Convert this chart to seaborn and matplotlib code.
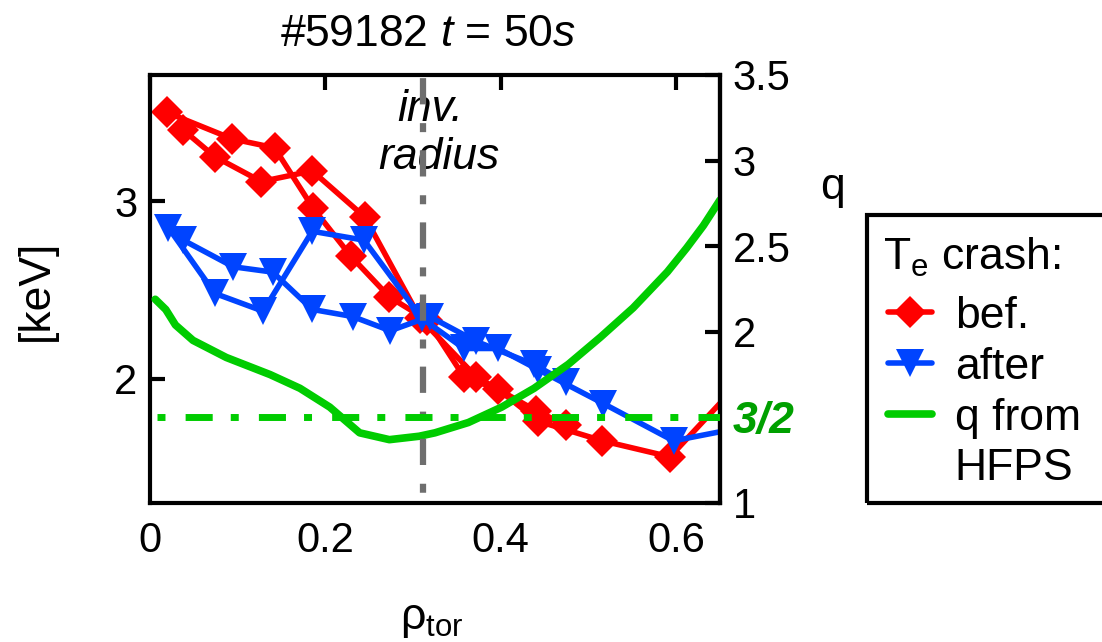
import pandas as pd
import seaborn as sns
import matplotlib.pyplot as plt
from matplotlib.lines import Line2D
from matplotlib.patches import Rectangle

# Te profiles before / after the crash (two sweeps each), rho_tor vs keV
rho_bef_1 = [0.019, 0.094, 0.142, 0.186, 0.229, 0.273, 0.316, 0.358, 0.397, 0.443, 0.516, 0.593, 0.68]
te_bef_1 = [3.50, 3.35, 3.30, 2.96, 2.69, 2.46, 2.33, 2.01, 1.94, 1.76, 1.65, 1.56, 2.02]
rho_bef_2 = [0.038, 0.074, 0.127, 0.185, 0.245, 0.308, 0.372, 0.440, 0.474]
te_bef_2 = [3.40, 3.25, 3.11, 3.17, 2.91, 2.34, 2.01, 1.82, 1.74]

rho_aft_1 = [0.021, 0.074, 0.129, 0.185, 0.244, 0.310, 0.358, 0.397, 0.443, 0.517, 0.597, 0.68]
te_aft_1 = [2.85, 2.48, 2.38, 2.83, 2.78, 2.34, 2.17, 2.17, 2.05, 1.86, 1.65, 1.73]
rho_aft_2 = [0.038, 0.095, 0.140, 0.185, 0.231, 0.274, 0.319, 0.372, 0.438, 0.474]
te_aft_2 = [2.78, 2.63, 2.60, 2.39, 2.35, 2.27, 2.35, 2.21, 2.08, 1.98]

# q profile from HFPS (right axis)
rho_q = [0.006, 0.018, 0.029, 0.049, 0.087, 0.137, 0.171, 0.205, 0.239, 0.273, 0.307,
         0.325, 0.363, 0.401, 0.438, 0.477, 0.514, 0.551, 0.590, 0.612, 0.631, 0.65]
q_hfps = [2.19, 2.13, 2.04, 1.95, 1.85, 1.75, 1.67, 1.56, 1.41, 1.37, 1.39,
          1.41, 1.47, 1.56, 1.67, 1.81, 1.97, 2.14, 2.35, 2.49, 2.62, 2.77]

rho_inv = 0.311
q_res = 1.5

x_ticks = [0, 0.2, 0.4, 0.6]
x_ticklabels = ["0", "0.2", "0.4", "0.6"]
te_ticks = [2, 3]
q_ticks = [1, 1.5, 2, 2.5, 3, 3.5]
q_ticklabels = ["1", "3/2", "2", "2.5", "3", "3.5"]


def profiles(sweeps):
    frames = []
    for name, r, t in sweeps:
        frames.append(pd.DataFrame({"rho": r, "Te": t, "sweep": name}))
    return pd.concat(frames, ignore_index=True)


df_bef = profiles([("b1", rho_bef_1, te_bef_1), ("b2", rho_bef_2, te_bef_2)])
df_aft = profiles([("a1", rho_aft_1, te_aft_1), ("a2", rho_aft_2, te_aft_2)])

sns.set_style("white")
plt.rcParams["font.family"] = ["Liberation Sans", "DejaVu Sans"]
plt.rcParams["mathtext.fontset"] = "custom"
plt.rcParams["mathtext.rm"] = "Liberation Sans"
plt.rcParams["mathtext.it"] = "Liberation Sans:italic"
plt.rcParams["mathtext.bf"] = "Liberation Sans:bold"
for k in ["text.color", "axes.labelcolor", "xtick.color", "ytick.color", "axes.edgecolor"]:
    plt.rcParams[k] = "black"

RED = "#ff0000"
BLUE = "#0044ff"
GREEN = "#00cc00"
GRAY = "#6e6e6e"

fig = plt.figure(figsize=(11.02, 6.42), dpi=100)
ax = fig.add_axes([150 / 1102, 1 - 503 / 642, 570 / 1102, 428 / 642])

sns.lineplot(data=df_bef, x="rho", y="Te", units="sweep", estimator=None, sort=False,
             color=RED, marker="D", markersize=16, mew=0, linewidth=4, ax=ax)
sns.lineplot(data=df_aft, x="rho", y="Te", units="sweep", estimator=None, sort=False,
             color=BLUE, marker="v", markersize=20, mew=0, linewidth=4, ax=ax)

ax2 = ax.twinx()
sns.lineplot(x=rho_q, y=q_hfps, color=GREEN, linewidth=5.5, ax=ax2, zorder=2)
ax2.axvline(rho_inv, color=GRAY, lw=4.5, zorder=3,
            linestyle=(9.9, (1.44, 3.0, 4.2, 2.9)))
ax2.axhline(q_res, xmin=0.012, color=GREEN, lw=5, zorder=4,
            linestyle=(0, (1.15, 2.9, 3.9, 2.6)))

ax.set_xlim(0, 0.65)
ax.set_ylim(1.3, 3.71)
ax2.set_ylim(1, 3.5)
ax.set_xlabel("")
ax.set_ylabel("")
ax2.set_ylabel("")

ax.set_xticks(x_ticks)
ax.set_xticklabels(x_ticklabels)
ax.set_yticks(te_ticks)
ax.set_yticklabels([str(v) for v in te_ticks])
ax2.set_yticks(q_ticks)
ax2.set_yticklabels(q_ticklabels)

ax.tick_params(axis="x", direction="in", length=11, width=3, top=True, labelsize=30, pad=13)
ax.tick_params(axis="y", direction="in", length=11, width=3, right=False, labelsize=30, pad=9)
ax2.tick_params(axis="y", direction="in", length=11, width=3, labelsize=30, pad=9)
lab = ax2.get_yticklabels()[1]
lab.set_color("#00a000")
lab.set_fontweight("bold")
lab.set_fontstyle("italic")
lab.set_fontsize(32)

for s in ax.spines.values():
    s.set_linewidth(3)
    s.set_color("black")
for name, s in ax2.spines.items():
    s.set_visible(name == "right")
    s.set_linewidth(3)

# "inv. radius" annotation, baselines at about 122 px and 170 px from the top
ax.text(0.320, 2 + (380 - 122) / 178, "inv.", fontsize=32, fontstyle="italic",
        ha="center", va="baseline")
ax.text(0.329, 2 + (380 - 170) / 178, "radius", fontsize=32, fontstyle="italic",
        ha="center", va="baseline")

fig.text(428 / 1102, 1 - 35 / 642, r"#59182 $\mathit{t}$ = $\mathit{50s}$", fontsize=32,
         ha="center", va="center")
fig.text(36 / 1102, 1 - 290 / 642, "[keV]", fontsize=32, rotation=90, ha="center", va="center")
fig.text(432 / 1102, 1 - 620 / 642, r"ρ$_{\rm tor}$", fontsize=32, ha="center", va="center")
fig.text(832 / 1102, 1 - 187 / 642, "q", fontsize=32, ha="center", va="center")

# legend: title as its own text, entries below, frame running off the right edge
fig.text(883 / 1102, 1 - 257 / 642, r"T$_{\rm e}$ crash:", fontsize=32, ha="left", va="center")
handles = [
    Line2D([], [], color=RED, lw=4, marker="D", markersize=16, mew=0),
    Line2D([], [], color=BLUE, lw=4, marker="v", markersize=20, mew=0),
    Line2D([], [], color=GREEN, lw=5.5),
    Line2D([], [], color="none"),
]
fig.legend(handles, ["bef.", "after", "q from", "HFPS"],
           loc="upper left", bbox_to_anchor=(888 / 1102, 1 - 296 / 642), frameon=False,
           fontsize=32, borderpad=0, handlelength=1.0, handletextpad=0.5,
           labelspacing=0.22, borderaxespad=0)
fig.patches.append(Rectangle((867 / 1102, 1 - 503 / 642), 0.4, (503 - 215) / 642,
                             transform=fig.transFigure, fill=False, lw=3, ec="black"))

fig.savefig("out.png", dpi=100)
